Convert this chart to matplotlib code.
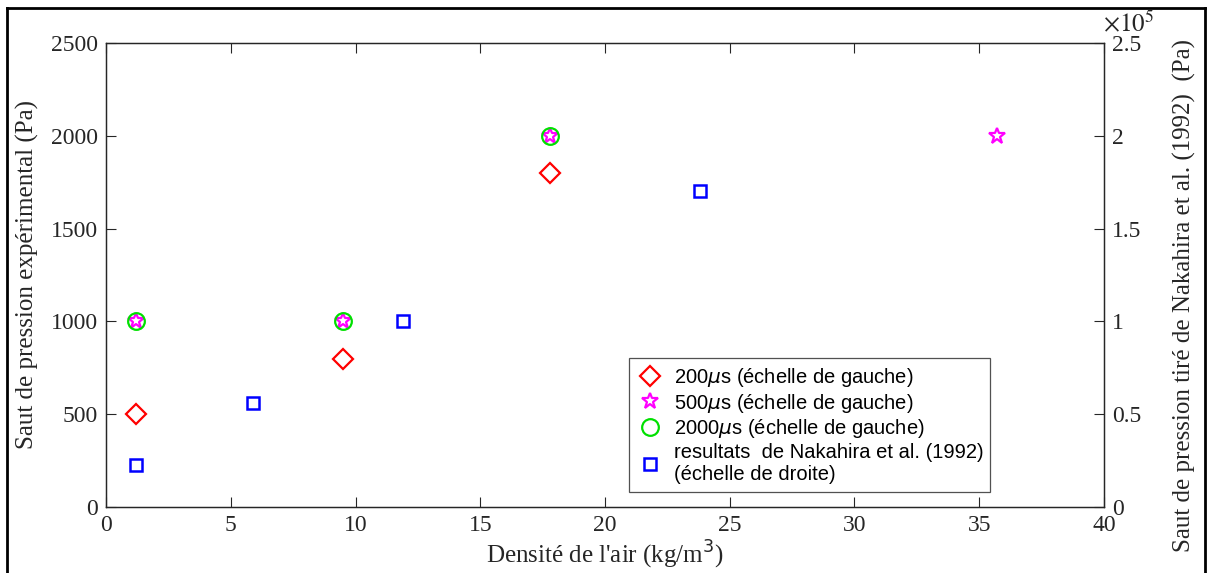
import matplotlib
matplotlib.use("Agg")
import matplotlib.pyplot as plt
from matplotlib.lines import Line2D
from matplotlib.ticker import FuncFormatter

# densité de l'air (kg/m3)
x_200 = [1.2, 9.5, 17.8]
p_200 = [500, 800, 1800]
x_500 = [1.2, 9.5, 17.8, 35.7]
p_500 = [1000, 1000, 2000, 2000]
x_2000 = [1.2, 9.5, 17.8]
p_2000 = [1000, 1000, 2000]
# Nakahira et al. (1992), échelle de droite (Pa)
x_nak = [1.2, 5.9, 11.9, 23.8]
p_nak = [22600, 56000, 100000, 170000]

left_ticks = [0, 500, 1000, 1500, 2000, 2500]
right_ticks = [0, 50000, 100000, 150000, 200000, 250000]
x_ticks = [0, 5, 10, 15, 20, 25, 30, 35, 40]

SERIF = "Liberation Serif"
SANS = "Liberation Sans"
DARK = "#262626"

fig = plt.figure(figsize=(12.09, 5.73), dpi=100)
ax = fig.add_axes([0.0877, 0.1152, 0.8254, 0.8098])
ax2 = ax.twinx()

ax.plot(x_200, p_200, ls="none", marker="D", ms=10, mfc="none", mec="red", mew=1.6,
        label=r"200$\mu$s (échelle de gauche)")
ax.plot(x_500, p_500, ls="none", marker="*", ms=12, mfc="none", mec="magenta", mew=1.6,
        label=r"500$\mu$s (échelle de gauche)")
ax.plot(x_2000, p_2000, ls="none", marker="o", ms=12, mfc="none", mec="#00e000", mew=1.6,
        label=r"2000$\mu$s (échelle de gauche)")
ax2.plot(x_nak, p_nak, ls="none", marker="s", ms=9, mfc="none", mec="blue", mew=1.8,
         label="resultats  de Nakahira et al. (1992)\n(échelle de droite)")

ax.set_xlim(0, 40)
ax.set_ylim(0, 2500)
ax2.set_ylim(0, 250000)
ax.set_xticks(x_ticks)
ax.set_yticks(left_ticks)
ax2.set_yticks(right_ticks)
ax2.yaxis.set_major_formatter(FuncFormatter(lambda v, p: f"{v / 1e5:g}"))

for a in (ax, ax2):
    for s in a.spines.values():
        s.set_color(DARK)
        s.set_linewidth(0.9)
ax.tick_params(axis="x", direction="in", top=True, length=7, color=DARK,
               labelcolor=DARK, pad=6)
ax.tick_params(axis="y", direction="in", right=False, length=7, color=DARK,
               labelcolor=DARK, pad=6)
ax2.tick_params(axis="y", direction="in", length=7, color=DARK, labelcolor=DARK,
                pad=6)
for lab in ax.get_xticklabels() + ax.get_yticklabels() + ax2.get_yticklabels():
    lab.set_fontfamily(SERIF)
    lab.set_fontsize(17)

ax.set_xlabel("Densité de l'air (kg/m$^3$)", fontfamily=SERIF, fontsize=18,
              color=DARK, labelpad=2)
ax.set_ylabel("Saut de pression expérimental (Pa)", fontfamily=SERIF, fontsize=18,
              color=DARK, labelpad=8)
ax2.set_ylabel("Saut de pression tiré de Nakahira et al. (1992)  (Pa)",
               fontfamily=SERIF, fontsize=18, color=DARK)
ax2.yaxis.set_label_coords(1.069, 0.455)
fig.text(0.912, 0.936, r"$\times 10^5$", fontsize=18, color=DARK,
         math_fontfamily="stix", va="bottom", ha="left")

handles = ax.get_lines() + ax2.get_lines()
leg = ax.legend(handles=handles, loc="lower left",
                bbox_to_anchor=(0.520, 0.141, 0.299, 0.232),
                bbox_transform=fig.transFigure, mode="expand",
                prop={"family": SANS, "size": 14.5}, frameon=True, fancybox=False,
                borderaxespad=0, handletextpad=0.55, labelspacing=0.14,
                handlelength=1.3, borderpad=0.4)
leg.get_frame().set_edgecolor(DARK)
leg.get_frame().set_linewidth(0.9)

# cadre de la capture
for xs, ys in (([0.006, 0.006], [0.0, 0.986]),
               ([0.006, 0.997], [0.986, 0.986]),
               ([0.997, 0.997], [0.0, 0.986])):
    fig.add_artist(Line2D(xs, ys, transform=fig.transFigure, color="black", lw=2))

fig.savefig("out.png", dpi=100)
